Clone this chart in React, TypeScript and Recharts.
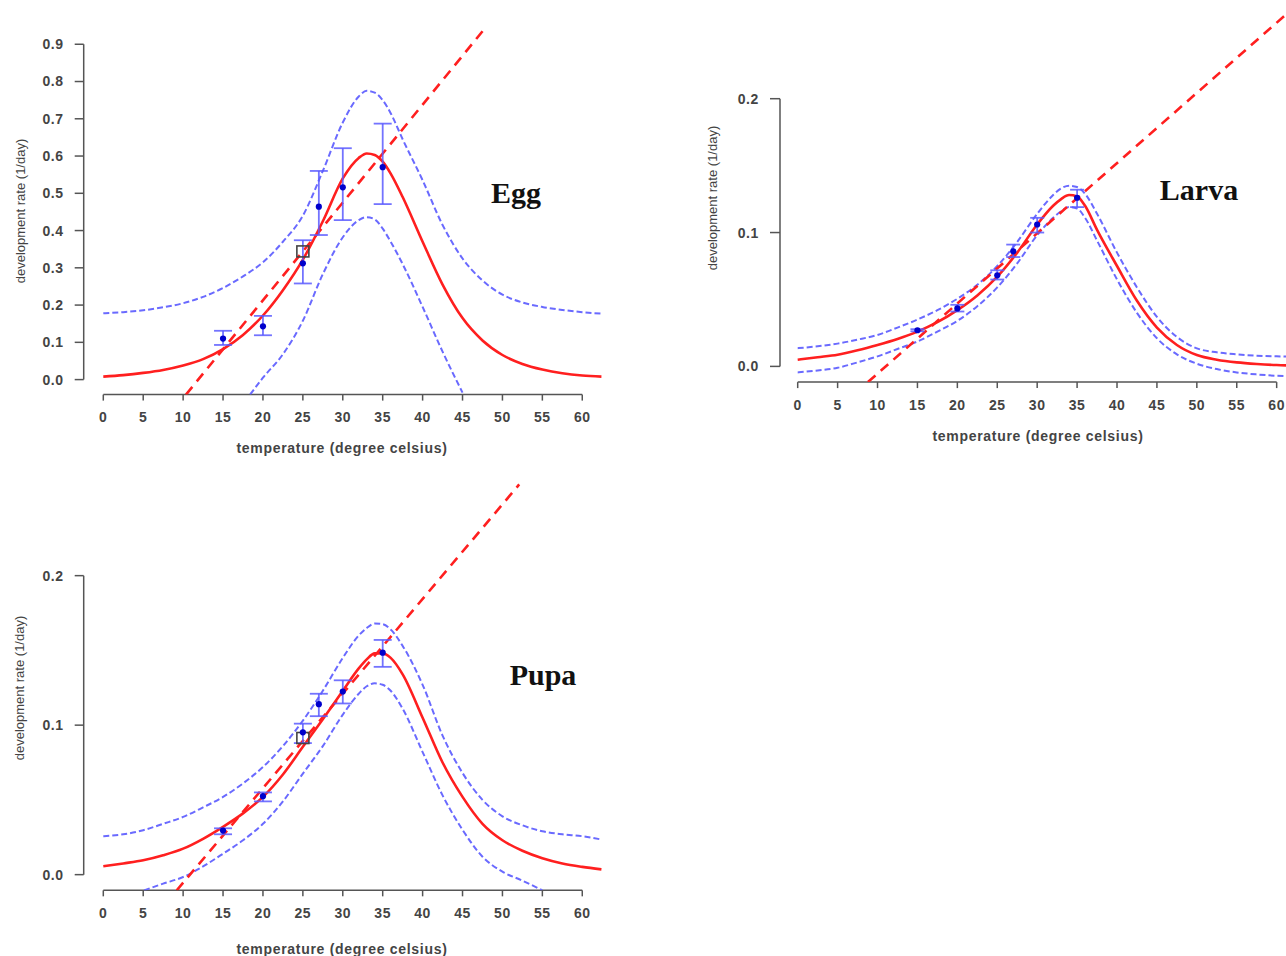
import React from 'react';
import { ComposedChart, Line, Scatter, XAxis, YAxis, ErrorBar, ReferenceLine } from 'recharts';

// ---------- shared ----------
const xTicks = [0, 5, 10, 15, 20, 25, 30, 35, 40, 45, 50, 55, 60];
const curveT = [0, 2.5, 5, 7.5, 10, 12.5, 15, 17.5, 20, 22.5, 25, 27.5, 30, 32, 33, 34, 35, 36, 37.5, 40, 42.5, 45, 47.5, 50, 52.5, 55, 57.5, 60, 62.4];
const obsT = [15, 20, 25, 27, 30, 35];

// ---------- Egg ----------
const eggYTicks = [0, 0.1, 0.2, 0.3, 0.4, 0.5, 0.6, 0.7, 0.8, 0.9];
const eggFit = [0.008, 0.012, 0.018, 0.026, 0.038, 0.055, 0.082, 0.12, 0.172, 0.24, 0.322, 0.425, 0.54, 0.595, 0.607, 0.603, 0.585, 0.553, 0.49, 0.37, 0.255, 0.165, 0.105, 0.066, 0.042, 0.027, 0.017, 0.011, 0.008];
const eggUpper = [0.178, 0.181, 0.186, 0.194, 0.205, 0.222, 0.246, 0.277, 0.315, 0.37, 0.44, 0.56, 0.69, 0.76, 0.775, 0.77, 0.75, 0.715, 0.645, 0.535, 0.415, 0.325, 0.266, 0.228, 0.207, 0.195, 0.187, 0.181, 0.177];
const eggLowerT = [18.4, 20, 22.5, 25, 27.5, 30, 32, 33, 34, 35, 36, 37.5, 40, 42.5, 45];
const eggLower = [-0.04, 0.005, 0.068, 0.158, 0.283, 0.382, 0.428, 0.436, 0.43, 0.405, 0.37, 0.31, 0.195, 0.075, -0.035];
const eggLinT = [10.36, 47.7];
const eggLin = [-0.0403, 0.94];
const eggMean = [0.11, 0.143, 0.312, 0.464, 0.516, 0.57];
const eggLow = [0.093, 0.119, 0.258, 0.388, 0.428, 0.471];
const eggHigh = [0.131, 0.171, 0.374, 0.56, 0.621, 0.687];
const eggSquareT = [25];
const eggSquare = [0.344];

// ---------- Larva ----------
const larvaYTicks = [0, 0.1, 0.2];
const larvaFit = [0.005, 0.0068, 0.0087, 0.012, 0.016, 0.0205, 0.026, 0.033, 0.042, 0.053, 0.067, 0.085, 0.106, 0.12, 0.125, 0.128, 0.127, 0.12, 0.102, 0.075, 0.049, 0.029, 0.016, 0.0085, 0.005, 0.003, 0.0018, 0.001, 0.0006];
const larvaUpper = [0.0136, 0.015, 0.017, 0.02, 0.0235, 0.029, 0.035, 0.042, 0.0505, 0.061, 0.075, 0.093, 0.114, 0.128, 0.133, 0.135, 0.134, 0.129, 0.114, 0.085, 0.059, 0.037, 0.022, 0.0135, 0.0105, 0.009, 0.008, 0.0075, 0.0073];
const larvaLowerT = curveT;
const larvaLower = [-0.0045, -0.003, -0.001, 0.003, 0.0075, 0.013, 0.0186, 0.026, 0.034, 0.045, 0.059, 0.077, 0.098, 0.111, 0.116, 0.119, 0.118, 0.111, 0.094, 0.065, 0.04, 0.021, 0.009, 0.002, -0.002, -0.0045, -0.006, -0.007, -0.0074];
const larvaLinT = [8.8, 61];
const larvaLin = [-0.0117, 0.262];
const larvaMean = [0.027, 0.0433, 0.068, 0.086, 0.106, 0.126];
const larvaLow = [0.0262, 0.041, 0.0649, 0.0817, 0.1, 0.119];
const larvaHigh = [0.0278, 0.046, 0.0718, 0.091, 0.111, 0.132];
const larvaSquareT: number[] = [];
const larvaSquare: number[] = [];

// ---------- Pupa ----------
const pupaYTicks = [0, 0.1, 0.2];
const pupaFit = [0.0056, 0.0075, 0.0096, 0.013, 0.0174, 0.024, 0.032, 0.041, 0.052, 0.067, 0.0855, 0.104, 0.123, 0.138, 0.144, 0.148, 0.148, 0.145, 0.134, 0.105, 0.075, 0.052, 0.034, 0.023, 0.016, 0.011, 0.0075, 0.0052, 0.0035];
const pupaUpper = [0.0257, 0.027, 0.0297, 0.034, 0.0386, 0.045, 0.052, 0.061, 0.072, 0.086, 0.103, 0.123, 0.145, 0.16, 0.165, 0.168, 0.1675, 0.164, 0.153, 0.127, 0.093, 0.068, 0.05, 0.039, 0.033, 0.029, 0.027, 0.0257, 0.0235];
const pupaLowerT = [5.1, 7.5, 10, 12.5, 15, 17.5, 20, 22.5, 25, 27.5, 30, 32, 33, 34, 35, 36, 37.5, 40, 42.5, 45, 47.5, 50, 52.5, 55];
const pupaLower = [-0.0105, -0.006, -0.0016, 0.0055, 0.014, 0.023, 0.034, 0.049, 0.0676, 0.086, 0.107, 0.121, 0.126, 0.128, 0.127, 0.123, 0.111, 0.082, 0.053, 0.03, 0.012, 0.002, -0.004, -0.0105];
const pupaLinT = [9.2, 52.1];
const pupaLin = [-0.0105, 0.261];
const pupaMean = [0.0295, 0.0525, 0.0952, 0.114, 0.1225, 0.1485];
const pupaLow = [0.027, 0.049, 0.088, 0.106, 0.1145, 0.139];
const pupaHigh = [0.031, 0.055, 0.101, 0.121, 0.13, 0.157];
const pupaSquareT = [25];
const pupaSquare = [0.0914];

// ---------- styles ----------
const RED = '#ff1f1f';
const BLUE_DASH = '#6a6aff';
const BAR_BLUE = '#5a5aff';
const POINT_BLUE = '#0000cc';
const AXIS = '#555555';
const TEXT = '#444444';
const SANS = '"Liberation Sans", Arial, sans-serif';
const SERIF = '"Liberation Serif", "Times New Roman", serif';

const zip = (ts: number[], vs: number[]) => ts.map((t, i) => ({ t, v: vs[i] }));

type PanelSpec = {
  x0: number; pxPerDeg: number; y0: number; pxPerUnit: number;
  xDomain: [number, number]; yDomain: [number, number];
  yAxisWidth: number; yTicks: number[];
  yTickSize: number; capHalf: number;
  fit: number[]; upper: number[]; lowerT: number[]; lower: number[];
  linT: number[]; lin: number[];
  mean: number[]; low: number[]; high: number[];
  sqT: number[]; sq: number[];
};

const X_AXIS_H = 60;

function Panel(p: PanelSpec) {
  // place chart so that library scales land on the reference geometry
  const plotLeft = p.x0 + p.xDomain[0] * p.pxPerDeg;
  const plotW = (p.xDomain[1] - p.xDomain[0]) * p.pxPerDeg;
  const plotTop = p.y0 - p.yDomain[1] * p.pxPerUnit;
  const plotH = (p.yDomain[1] - p.yDomain[0]) * p.pxPerUnit;
  const chartLeft = plotLeft - p.yAxisWidth;
  const W = p.yAxisWidth + plotW;
  const H = plotH + X_AXIS_H;

  const fitData = zip(curveT, p.fit);
  const upData = zip(curveT, p.upper);
  const loData = zip(p.lowerT, p.lower);
  const linData = zip(p.linT, p.lin);
  const obsData = obsT.map((t, i) => ({ t, v: p.mean[i], err: [p.mean[i] - p.low[i], p.high[i] - p.mean[i]] }));
  const sqData = zip(p.sqT, p.sq);
  const tickStyle = { fontFamily: SANS, fontSize: 14, fontWeight: 700, fill: TEXT, letterSpacing: 0.6 };

  return (
    <div style={{ position: 'absolute', left: chartLeft, top: plotTop }}>
      <ComposedChart width={W} height={H} margin={{ top: 0, right: 0, bottom: 0, left: 0 }}>
        <XAxis
          dataKey="t"
          type="number"
          domain={p.xDomain}
          allowDataOverflow
          ticks={xTicks}
          interval={0}
          axisLine={false}
          tickLine={{ stroke: AXIS, strokeWidth: 1.5 }}
          tickSize={6}
          tickMargin={11.5}
          height={X_AXIS_H}
          tick={tickStyle}
        />
        <YAxis
          type="number"
          domain={p.yDomain}
          allowDataOverflow
          ticks={p.yTicks}
          interval={0}
          width={p.yAxisWidth}
          axisLine={false}
          tickLine={{ stroke: AXIS, strokeWidth: 1.5 }}
          tickSize={p.yTickSize}
          tickMargin={11}
          tickFormatter={(v: number) => v.toFixed(1)}
          tick={tickStyle}
        />
        <ReferenceLine
          segment={[{ x: xTicks[0], y: p.yDomain[0] }, { x: xTicks[xTicks.length - 1], y: p.yDomain[0] }]}
          stroke={AXIS}
          strokeWidth={1.5}
          ifOverflow="visible"
        />
        <ReferenceLine
          segment={[{ x: p.xDomain[0], y: p.yTicks[0] }, { x: p.xDomain[0], y: p.yTicks[p.yTicks.length - 1] }]}
          stroke={AXIS}
          strokeWidth={1.5}
          ifOverflow="visible"
        />
        <Line data={upData} dataKey="v" type="monotone" stroke={BLUE_DASH} strokeWidth={2} strokeDasharray="6 3" dot={false} activeDot={false} isAnimationActive={false} />
        <Line data={loData} dataKey="v" type="monotone" stroke={BLUE_DASH} strokeWidth={2} strokeDasharray="6 3" dot={false} activeDot={false} isAnimationActive={false} />
        <Line data={linData} dataKey="v" type="linear" stroke={RED} strokeWidth={2.6} strokeDasharray="10 7" dot={false} activeDot={false} isAnimationActive={false} />
        <Line data={fitData} dataKey="v" type="monotone" stroke={RED} strokeWidth={2.6} dot={false} activeDot={false} isAnimationActive={false} />
        <Scatter
          data={sqData}
          dataKey="v"
          isAnimationActive={false}
          shape={(s: any) => <rect x={s.cx - 6} y={s.cy - 5.5} width={12} height={11} fill="none" stroke="#444" strokeWidth={1.6} />}
        />
        <Scatter
          data={obsData}
          dataKey="v"
          isAnimationActive={false}
          shape={(s: any) => <circle cx={s.cx} cy={s.cy} r={3.1} fill={POINT_BLUE} />}
        >
          <ErrorBar dataKey="err" direction="y" width={p.capHalf} stroke={BAR_BLUE} strokeWidth={1.8} strokeOpacity={0.85} isAnimationActive={false} />
        </Scatter>
      </ComposedChart>
    </div>
  );
}

const xTitle = 'temperature (degree celsius)';
const yTitle = 'development rate (1/day)';

function XTitle({ cx, cy }: { cx: number; cy: number }) {
  return (
    <div style={{ position: 'absolute', left: cx, top: cy, transform: 'translate(-50%, -50%)', whiteSpace: 'nowrap', fontFamily: SANS, fontSize: 14, fontWeight: 700, color: TEXT, letterSpacing: 0.7, lineHeight: 1 }}>
      {xTitle}
    </div>
  );
}
function YTitle({ cx, cy }: { cx: number; cy: number }) {
  return (
    <div style={{ position: 'absolute', left: cx, top: cy, transform: 'translate(-50%, -50%) rotate(-90deg)', whiteSpace: 'nowrap', fontFamily: SANS, fontSize: 13, color: TEXT, lineHeight: 1 }}>
      {yTitle}
    </div>
  );
}
function Title({ cx, cy, text }: { cx: number; cy: number; text: string }) {
  return (
    <div style={{ position: 'absolute', left: cx, top: cy, transform: 'translate(-50%, -50%)', whiteSpace: 'nowrap', fontFamily: SERIF, fontSize: 30, fontWeight: 700, color: '#111', lineHeight: 1 }}>
      {text}
    </div>
  );
}

export default function App() {
  return (
    <div style={{ position: 'absolute', left: 0, top: 0, width: 1286, height: 956, overflow: 'hidden', background: '#fff' }}>
      <Panel
        x0={103.3} pxPerDeg={7.983} y0={379.3} pxPerUnit={372.6}
        xDomain={[-2.455, 65]} yDomain={[-0.0403, 1.0]}
        yAxisWidth={83.7} yTicks={eggYTicks} yTickSize={9} capHalf={9}
        fit={eggFit} upper={eggUpper} lowerT={eggLowerT} lower={eggLower}
        linT={eggLinT} lin={eggLin}
        mean={eggMean} low={eggLow} high={eggHigh}
        sqT={eggSquareT} sq={eggSquare}
      />
      <Panel
        x0={797.7} pxPerDeg={7.983} y0={366} pxPerUnit={1338.5}
        xDomain={[-2.217, 65]} yDomain={[-0.01173, 0.27]}
        yAxisWidth={80} yTicks={larvaYTicks} yTickSize={10} capHalf={7}
        fit={larvaFit} upper={larvaUpper} lowerT={larvaLowerT} lower={larvaLower}
        linT={larvaLinT} lin={larvaLin}
        mean={larvaMean} low={larvaLow} high={larvaHigh}
        sqT={larvaSquareT} sq={larvaSquare}
      />
      <Panel
        x0={103.3} pxPerDeg={7.983} y0={875} pxPerUnit={1495}
        xDomain={[-2.455, 65]} yDomain={[-0.0105, 0.27]}
        yAxisWidth={83.7} yTicks={pupaYTicks} yTickSize={9} capHalf={9}
        fit={pupaFit} upper={pupaUpper} lowerT={pupaLowerT} lower={pupaLower}
        linT={pupaLinT} lin={pupaLin}
        mean={pupaMean} low={pupaLow} high={pupaHigh}
        sqT={pupaSquareT} sq={pupaSquare}
      />
      <XTitle cx={342} cy={447.5} />
      <XTitle cx={1038} cy={436} />
      <XTitle cx={342} cy={949} />
      <YTitle cx={20} cy={211} />
      <YTitle cx={712} cy={198} />
      <YTitle cx={19} cy={688} />
      <Title cx={516} cy={193} text="Egg" />
      <Title cx={1199} cy={190} text="Larva" />
      <Title cx={543} cy={675} text="Pupa" />
    </div>
  );
}
